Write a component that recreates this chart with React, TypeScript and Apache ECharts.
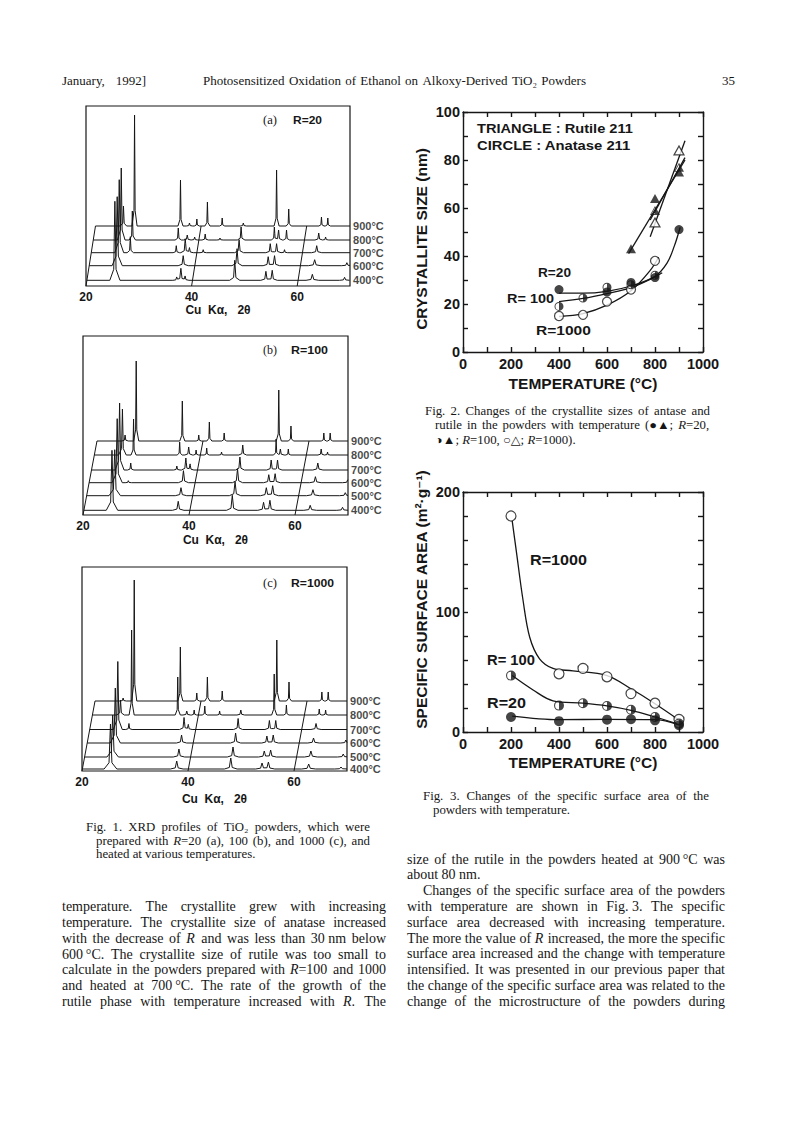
import React, { useEffect, useRef } from 'react';
import * as echarts from 'echarts';

const INK = '#161616';
const SANS = "'Liberation Sans', 'DejaVu Sans', Arial, sans-serif";
const SERIF = "'Liberation Serif', 'DejaVu Serif', 'DejaVu Sans', 'Times New Roman', serif";
const SYMFONT = "'Liberation Serif', 'DejaVu Sans', serif";

// ---------------- Fig. 1 : XRD profiles, peaks = [2θ, height, half-width] ----------------
const xrdTicks = [20, 40, 60];
const tempsA = ['400°C', '600°C', '700°C', '800°C', '900°C'];
const tempsBC = ['400°C', '500°C', '600°C', '700°C', '800°C', '900°C'];

const peaksA400 = [[25.3, 79, 0.4], [37.0, 3, 0.3], [37.8, 12, 0.4], [38.6, 4, 0.3], [48.0, 20, 0.4], [53.9, 9, 0.4], [55.1, 10, 0.4], [62.7, 6, 0.5], [68.8, 3, 0.4]];
const peaksA600 = [[25.3, 69, 0.4], [37.8, 10, 0.4], [48.0, 17, 0.4], [53.9, 9, 0.4], [55.1, 10, 0.4], [62.7, 6, 0.5], [68.8, 3, 0.4]];
const peaksA700 = [[25.3, 73, 0.35], [27.4, 16, 0.25], [36.1, 7, 0.25], [37.8, 14, 0.35], [38.6, 5, 0.3], [41.2, 3, 0.25], [48.0, 13, 0.35], [53.9, 9, 0.35], [55.1, 9, 0.35], [56.6, 3, 0.25], [62.7, 7, 0.4]];
const peaksA800 = [[25.3, 72, 0.3], [27.4, 29, 0.25], [36.1, 12, 0.25], [37.8, 5, 0.3], [39.2, 3, 0.25], [41.2, 6, 0.25], [44.0, 2, 0.25], [48.0, 13, 0.3], [54.3, 13, 0.25], [55.1, 10, 0.3], [56.6, 10, 0.25], [62.7, 7, 0.3], [64.0, 3, 0.25]];
const peaksA900 = [[25.3, 20, 0.25], [27.4, 111, 0.2], [36.1, 46, 0.2], [37.8, 3, 0.25], [39.2, 7, 0.2], [41.2, 24, 0.2], [44.0, 8, 0.2], [48.0, 3, 0.25], [54.3, 56, 0.2], [56.6, 17, 0.2], [62.8, 9, 0.2], [64.0, 8, 0.2]];

const peaksB400 = [[25.3, 60, 0.45], [37.8, 9, 0.45], [48.0, 15, 0.45], [53.9, 8, 0.45], [55.1, 10, 0.45], [62.7, 5, 0.5], [68.8, 3, 0.45]];
const peaksB500 = [[25.3, 46, 0.45], [37.8, 8, 0.45], [48.0, 14, 0.45], [53.9, 8, 0.45], [55.1, 10, 0.45], [62.7, 6, 0.5], [68.8, 3, 0.45]];
const peaksB600 = [[25.3, 64, 0.4], [27.4, 2, 0.25], [37.8, 12, 0.4], [48.0, 14, 0.4], [53.9, 8, 0.4], [55.1, 9, 0.4], [62.7, 6, 0.45], [68.8, 3, 0.4]];
const peaksB700 = [[25.3, 67, 0.35], [27.4, 7, 0.25], [36.1, 4, 0.25], [37.8, 12, 0.35], [38.6, 6, 0.3], [48.0, 13, 0.35], [53.9, 10, 0.35], [55.1, 10, 0.35], [62.7, 7, 0.4]];
const peaksB800 = [[25.3, 46, 0.3], [27.4, 36, 0.2], [36.1, 13, 0.2], [37.8, 8, 0.3], [39.2, 5, 0.2], [41.2, 7, 0.2], [44.0, 3, 0.2], [48.0, 10, 0.3], [54.3, 16, 0.2], [55.1, 6, 0.3], [56.6, 6, 0.2], [62.8, 6, 0.25], [64.0, 3, 0.2]];
const peaksB900 = [[25.3, 6, 0.25], [27.4, 80, 0.2], [36.1, 40, 0.2], [39.2, 6, 0.2], [41.2, 19, 0.2], [44.0, 8, 0.2], [54.3, 51, 0.2], [56.6, 15, 0.2], [62.8, 8, 0.2], [64.0, 8, 0.2]];

const peaksC400 = [[25.3, 45, 0.5], [37.8, 8, 0.5], [48.0, 11, 0.5], [53.9, 6, 0.5], [55.1, 7, 0.5], [62.7, 5, 0.55], [68.8, 2, 0.5]];
const peaksC500 = [[25.3, 42, 0.45], [37.8, 8, 0.45], [48.0, 10, 0.45], [53.9, 6, 0.45], [55.1, 7, 0.45], [62.7, 6, 0.5], [68.8, 3, 0.45]];
const peaksC600 = [[25.3, 55, 0.4], [37.8, 8, 0.4], [48.0, 10, 0.4], [53.9, 7, 0.4], [55.1, 8, 0.4], [62.7, 5, 0.45], [68.8, 3, 0.4]];
const peaksC700 = [[25.3, 68, 0.35], [27.4, 6, 0.25], [37.8, 12, 0.35], [38.6, 5, 0.3], [48.0, 11, 0.35], [53.9, 9, 0.35], [55.1, 9, 0.35], [62.7, 6, 0.4]];
const peaksC800 = [[25.3, 15, 0.3], [27.4, 85, 0.2], [36.1, 38, 0.2], [37.8, 4, 0.3], [39.2, 5, 0.2], [41.2, 9, 0.2], [44.0, 4, 0.2], [48.0, 5, 0.3], [54.3, 41, 0.2], [56.6, 10, 0.2], [62.8, 6, 0.2], [64.0, 5, 0.2]];
const peaksC900 = [[25.3, 3, 0.25], [27.4, 121, 0.2], [36.1, 54, 0.2], [39.2, 8, 0.2], [41.2, 24, 0.2], [44.0, 10, 0.2], [54.3, 61, 0.2], [56.6, 19, 0.2], [62.8, 9, 0.2], [64.0, 9, 0.2]];

// ---------------- Fig. 2 : crystallite size (nm) vs temperature ----------------
const anatase20 = [[400, 26], [600, 25], [700, 29], [800, 31], [900, 51]];
const anatase100 = [[400, 19], [500, 22.5], [600, 27], [700, 28], [800, 32]];
const anatase1000 = [[400, 15], [500, 15.5], [600, 21], [700, 26], [800, 38]];
const rutile20 = [[700, 43], [800, 64], [900, 75]];
const rutile100 = [[800, 59], [900, 77]];
const rutile1000 = [[800, 54], [900, 84]];
const fitA20 = [[400, 24.5], [500, 24.5], [600, 25.3], [700, 27.5], [800, 31.5], [850, 37], [880, 44], [905, 52]];
const fitA100 = [[400, 21], [500, 22.3], [600, 24.3], [700, 26.8], [800, 31.3], [830, 33]];
const fitA1000 = [[400, 14.8], [500, 16], [600, 19.5], [700, 25.5], [780, 34], [815, 39.5]];
const fitR20 = [[690, 41], [925, 80]];
const fitR100 = [[780, 55], [925, 81]];
const fitR1000 = [[780, 48], [925, 88]];

// ---------------- Fig. 3 : specific surface area vs temperature ----------------
const sa1000 = [[200, 180], [400, 48.5], [500, 53], [600, 46], [700, 32], [800, 24], [900, 10.5]];
const sa100 = [[200, 47], [400, 22], [500, 24], [600, 21.7], [700, 18.6], [800, 12.5], [900, 7]];
const sa20 = [[200, 12.5], [400, 9], [600, 10.3], [700, 10.6], [800, 9.7], [900, 5.6]];
const fitS1000 = [[205, 176], [222, 151], [250, 110], [278, 79], [319, 61], [375, 53], [458, 51], [600, 47], [700, 36], [800, 23.6], [900, 10]];
const fitS100 = [[205, 47], [292, 35], [375, 26], [500, 24], [600, 21.7], [700, 18], [800, 12.5], [900, 6.4]];
const fitS20 = [[205, 13.3], [400, 10.3], [600, 10.5], [800, 10.3], [900, 6]];

// ---------------- page text ----------------
const headerLines: [string, number, number, number | null][] = [
  ['January, 1992]', 62, 80, 146],
  ['Photosensitized Oxidation of Ethanol on Alkoxy-Derived TiO₂ Powders', 203, 80, 586],
  ['35', 722, 80, null],
];
const fig1Caption: [string, number, number, number | null][] = [
  ['Fig. 1.  XRD profiles of TiO₂ powders, which were', 86, 827, 370],
  ['prepared with {i|R}=20 (a), 100 (b), and 1000 (c), and', 96, 841, 370],
  ['heated at various temperatures.', 96, 854, null],
];
const fig2Caption: [string, number, number, number | null][] = [
  ['Fig. 2.  Changes of the crystallite sizes of antase and', 425, 411, 710],
  ['rutile in the powders with temperature (●▲; {i|R}=20,', 435, 425.5, 710],
  ['◑▲; {i|R}=100, ○△; {i|R}=1000).', 435, 440, null],
];
const fig3Caption: [string, number, number, number | null][] = [
  ['Fig. 3.  Changes of the specific surface area of the', 423, 796, 709],
  ['powders with temperature.', 433, 810, null],
];
const leftBody = [
  'temperature.  The crystallite grew with increasing',
  'temperature.  The crystallite size of anatase increased',
  'with the decrease of {i|R} and was less than 30\u00a0nm below',
  '600\u2009°C.  The crystallite size of rutile was too small to',
  'calculate in the powders prepared with {i|R}=100 and 1000',
  'and heated at 700\u2009°C.  The rate of the growth of the',
  'rutile phase with temperature increased with {i|R}.  The',
];
const rightBody: [string, number, boolean][] = [
  ['size of the rutile in the powders heated at 900\u2009°C was', 407, true],
  ['about 80 nm.', 407, false],
  ['Changes of the specific surface area of the powders', 423, true],
  ['with temperature are shown in Fig.\u00a03.  The specific', 407, true],
  ['surface area decreased with increasing temperature.', 407, true],
  ['The more the value of {i|R} increased, the more the specific', 407, true],
  ['surface area increased and the change with temperature', 407, true],
  ['intensified.  It was presented in our previous paper that', 407, true],
  ['the change of the specific surface area was related to the', 407, true],
  ['change of the microstructure of the powders during', 407, true],
];

// ---------------- helpers ----------------
const strip = (s: string) => s.replace(/\{i\|([^}]*)\}/g, '$1');
let _ctx: any = null;
function measure(s: string, size: number, family: string, weight = 'normal') {
  if (!_ctx) _ctx = document.createElement('canvas').getContext('2d');
  _ctx.font = `${weight} ${size}px ${family}`;
  return _ctx.measureText(strip(s)).width;
}
type F = { size: number; family: string; weight?: string; sx?: number };
function txt(s: string, x: number, y: number, f: F, sx: number) {
  return {
    type: 'text', x, y, scaleX: sx, silent: true, z: 10,
    style: {
      text: s, fill: INK, fontSize: f.size, fontFamily: f.family, fontWeight: f.weight || 'normal',
      align: 'left', verticalAlign: 'middle',
      rich: { i: { fontStyle: 'italic', fontSize: f.size, fontFamily: f.family, fill: INK } },
    },
  };
}
function justify(s: string, x: number, y: number, r: number | null, f: F) {
  const sx = f.sx || 1;
  if (r == null) return [txt(s, x, y, f, sx)];
  const words = s.split(' ').filter((w) => w.length);
  let k = sx;
  let ws = words.map((w) => measure(w, f.size, f.family, f.weight) * k);
  let total = ws.reduce((a, b) => a + b, 0);
  const n = Math.max(1, words.length - 1);
  let gap = (r - x - total) / n;
  const minGap = f.size * 0.2;
  if (gap < minGap) {
    const f2 = (r - x - minGap * n) / total;
    k = k * f2;
    ws = ws.map((w) => w * f2);
    total = ws.reduce((a, b) => a + b, 0);
    gap = minGap;
  }
  const out: any[] = [];
  let cx = x;
  words.forEach((w, i) => {
    out.push(txt(w, cx, y, f, k));
    cx += ws[i] + gap;
  });
  return out;
}
function fit(s: string, x: number, y: number, r: number, f: F) {
  const w = measure(s, f.size, f.family, f.weight);
  return txt(s, x, y, f, (r - x) / w);
}

function buildTrace(peaks: number[][], level: number, shift: number) {
  const start = 20 + shift;
  const tris: number[][] = [];
  peaks.forEach(([c, h, w]) => {
    tris.push([c + shift, h * 0.82, w * 0.55]);
    tris.push([c + shift, h * 0.18, w * 2.4]);
  });
  const xs = new Set<number>([start, 70]);
  tris.forEach(([c, , w]) => { xs.add(c - w); xs.add(c); xs.add(c + w); });
  const sorted = Array.from(xs).filter((x) => x >= start && x <= 70).sort((a, b) => a - b);
  return sorted.map((x) => {
    let y = level;
    tris.forEach(([c, h, w]) => { const d = Math.abs(x - c); if (d < w) y += h * (1 - d / w); });
    return [x, y];
  });
}

const HALF_CIRCLE = 'path://M10,0A10,10,0,1,1,10,20A10,10,0,1,1,10,0ZM10,2.2A7.8,7.8,0,1,0,10,17.8A7.8,7.8,0,1,0,10,2.2ZM10,2.2A7.8,7.8,0,0,1,10,17.8Z';
const HALF_TRI = 'path://M10,0L20,18L0,18ZM10,3.6L2.9,16.4L17.1,16.4ZM10,3.6L17.1,16.4L10,16.4Z';

function buildOption() {
  const panels = [
    { grid: { left: 86, top: 106, width: 264, height: 180 }, levels: [5.7, 20.3, 33.3, 46, 60], slant: 0.158, temps: tempsA,
      peaks: [peaksA400, peaksA600, peaksA700, peaksA800, peaksA900], nameGap: 18, tY: 120, tag: '(a)', R: 'R=20', rEnd: 322, rX: 293 },
    { grid: { left: 83, top: 336, width: 265, height: 179 }, levels: [4.7, 19.3, 32.3, 45, 60, 74], slant: 0.189, temps: tempsBC,
      peaks: [peaksB400, peaksB500, peaksB600, peaksB700, peaksB800, peaksB900], nameGap: 19, tY: 350, tag: '(b)', R: 'R=100', rEnd: 328, rX: 291 },
    { grid: { left: 82, top: 567, width: 265, height: 204 }, levels: [2, 14, 28, 41.5, 56, 70], slant: 0.186, temps: tempsBC,
      peaks: [peaksC400, peaksC500, peaksC600, peaksC700, peaksC800, peaksC900], nameGap: 22, tY: 583, tag: '(c)', R: 'R=1000', rEnd: 334, rX: 291 },
  ];
  const grids: any[] = [];
  const xAxes: any[] = [];
  const yAxes: any[] = [];
  const series: any[] = [];
  const els: any[] = [];

  panels.forEach((p, i) => {
    grids.push({ ...p.grid, show: true, borderColor: INK, borderWidth: 1.2, backgroundColor: 'transparent', containLabel: false, outerBoundsMode: 'none' });
    xAxes.push({
      gridIndex: i, type: 'value', min: 20, max: 70, interval: 20,
      axisLine: { show: false }, axisTick: { show: false }, splitLine: { show: false },
      axisLabel: { formatter: (v: number) => (xrdTicks.includes(v) ? String(v) : ''), color: INK, fontFamily: SANS, fontWeight: 'bold', fontSize: 12, margin: 5 },
      name: 'Cu  Kα,   2θ', nameLocation: 'middle', nameGap: p.nameGap,
      nameTextStyle: { color: INK, fontFamily: SANS, fontWeight: 'bold', fontSize: 12 },
    });
    yAxes.push({ gridIndex: i, type: 'value', min: 0, max: p.grid.height, show: false });
    const ppu = p.grid.width / 50;
    const shift = (L: number) => (L * p.slant) / ppu;
    p.temps.forEach((t, k) => {
      const L = p.levels[k];
      series.push({
        type: 'line', xAxisIndex: i, yAxisIndex: i, data: buildTrace(p.peaks[k], L, shift(L)),
        symbol: 'none', silent: true, lineStyle: { color: INK, width: 1 }, z: 2,
      });
    });
    // temperature labels at the right end of each baseline
    series.push({
      type: 'scatter', xAxisIndex: i, yAxisIndex: i, silent: true, z: 3,
      data: p.temps.map((t, k) => ({ value: [70, p.levels[k]], name: t })),
      symbolSize: 0.1, itemStyle: { color: 'rgba(0,0,0,0)' },
      label: { show: true, position: 'right', distance: 3, formatter: '{b}', color: INK, fontFamily: SANS, fontWeight: 'bold', fontSize: 11 },
    });
    const top = p.levels[p.levels.length - 1];
    xrdTicks.forEach((x0) => {
      series.push({ type: 'line', xAxisIndex: i, yAxisIndex: i, data: [[x0, 0], [x0 + shift(top), top]], symbol: 'none', silent: true, lineStyle: { color: INK, width: 1 } });
    });
    els.push(fit(p.tag, 263, p.tY, 277, { size: 13, family: SERIF }));
    els.push(fit(p.R, p.rX, p.tY, p.rEnd, { size: 11, family: SANS, weight: 'bold' }));
  });

  const line = { color: INK, width: 1.4 };
  const nameStyle = (pad: number[]) => ({ color: INK, fontFamily: SANS, fontWeight: 'bold', fontSize: 15.5, padding: pad });
  const xFrame = (g: number, pos: string, labels: boolean, gap = 0) => ({
    gridIndex: g, type: 'value', position: pos, min: 0, max: 1000, interval: 100,
    axisLine: { show: true, onZero: false, lineStyle: line },
    axisTick: { show: true, inside: true, length: 5, lineStyle: line },
    splitLine: { show: false },
    axisLabel: labels
      ? { show: true, formatter: (v: number) => (v % 200 === 0 ? String(v) : ''), color: INK, fontFamily: SANS, fontWeight: 'bold', fontSize: 14.5, margin: 4 }
      : { show: false },
    name: labels ? 'TEMPERATURE (°C)' : '', nameLocation: 'middle', nameGap: gap, nameTextStyle: nameStyle([0, 0, 0, 0]),
  });
  const yFrame = (g: number, pos: string, max: number, step: number, every: number, name: string, pad: number[]) => ({
    gridIndex: g, type: 'value', position: pos, min: 0, max, interval: step,
    axisLine: { show: true, onZero: false, lineStyle: line },
    axisTick: { show: true, inside: true, length: 5, lineStyle: line },
    splitLine: { show: false },
    axisLabel: name
      ? { show: true, formatter: (v: number) => (v % every === 0 ? String(v) : ''), color: INK, fontFamily: SANS, fontWeight: 'bold', fontSize: 14.5, margin: 3 }
      : { show: false },
    name, nameLocation: 'middle', nameGap: 34, nameTextStyle: nameStyle(pad),
  });

  // Fig. 2 (grid 3, axes 3/4)
  grids.push({ left: 463, top: 112, width: 240, height: 240, containLabel: false, outerBoundsMode: 'none' });
  xAxes.push(xFrame(3, 'bottom', true, 23.5), xFrame(3, 'top', false));
  yAxes.push(yFrame(3, 'left', 100, 10, 20, 'CRYSTALLITE SIZE (nm)', [0, 14, 0, 0]), yFrame(3, 'right', 100, 10, 20, '', [0, 0, 0, 0]));
  // Fig. 3 (grid 4, axes 5/6)
  grids.push({ left: 463, top: 492, width: 240, height: 240, containLabel: false, outerBoundsMode: 'none' });
  xAxes.push(xFrame(4, 'bottom', true, 22.5), xFrame(4, 'top', false));
  yAxes.push(yFrame(4, 'left', 200, 20, 100, 'SPECIFIC SURFACE AREA (m²·g⁻¹)', [0, 0, 0, 25]), yFrame(4, 'right', 200, 20, 100, '', [0, 0, 0, 0]));

  const curve = (ax: number, data: number[][]) => ({
    type: 'line', xAxisIndex: ax, yAxisIndex: ax, data, smooth: 0.35, symbol: 'none', silent: true, z: 2,
    lineStyle: { color: INK, width: 1.3 },
  });
  const dots = (ax: number, data: number[][], symbol: string, size: any, open: boolean) => ({
    type: 'scatter', xAxisIndex: ax, yAxisIndex: ax, data, symbol, symbolSize: size, silent: true, z: 4,
    itemStyle: open ? { color: '#ffffff', borderColor: INK, borderWidth: 1.2 } : { color: INK, borderWidth: 0 },
  });
  series.push(
    curve(3, fitA20), curve(3, fitA100), curve(3, fitA1000), curve(3, fitR20), curve(3, fitR100), curve(3, fitR1000),
    dots(3, anatase1000, 'circle', 9, true), dots(3, anatase100, HALF_CIRCLE, 9, false), dots(3, anatase20, 'circle', 9, false),
    dots(3, rutile1000, 'triangle', [10, 9], true), dots(3, rutile100, HALF_TRI, [10, 9], false), dots(3, rutile20, 'triangle', [10, 9], false),
    curve(5, fitS1000), curve(5, fitS100), curve(5, fitS20),
    dots(5, sa1000, 'circle', 10, true), dots(5, sa100, HALF_CIRCLE, 10, false), dots(5, sa20, 'circle', 10, false),
  );

  const bold13 = { size: 13, family: SANS, weight: 'bold' };
  const bold15 = { size: 14.5, family: SANS, weight: 'bold' };
  els.push(
    fit('TRIANGLE : Rutile 211', 477, 128, 633, bold13),
    fit('CIRCLE : Anatase 211', 477, 145, 631, bold13),
    fit('R=20', 538, 273, 571, bold13),
    fit('R= 100', 507, 299, 554, bold13),
    fit('R=1000', 536, 330, 591, bold13),
    fit('R=1000', 530, 560, 587, bold15),
    fit('R= 100', 487, 660, 535, bold15),
    fit('R=20', 487, 703, 526, bold15),
  );

  const head: F = { size: 13, family: SERIF };
  headerLines.forEach(([s, x, y, r]) => els.push(...justify(s, x, y, r, head)));
  const cap: F = { size: 12, family: SERIF, sx: 1.07 };
  [...fig1Caption, ...fig3Caption].forEach(([s, x, y, r]) => els.push(...justify(s, x, y, r, cap)));
  const capSym: F = { size: 12, family: SYMFONT, sx: 1.07 };
  fig2Caption.forEach(([s, x, y, r]) => els.push(...justify(s, x, y, r, capSym)));
  const body: F = { size: 14, family: SERIF };
  leftBody.forEach((s, i) => els.push(...justify(s, 62, 906.7 + 15.8 * i, 386, body)));
  rightBody.forEach(([s, x, j], i) => els.push(...justify(s, x, 859 + 15.8 * i, j ? 725 : null, body)));

  return {
    animation: false,
    backgroundColor: '#ffffff',
    grid: grids,
    xAxis: xAxes,
    yAxis: yAxes,
    series,
    graphic: { elements: els },
  };
}

export default function App() {
  const ref = useRef<HTMLDivElement>(null);
  useEffect(() => {
    document.body.style.margin = '0';
    if (!ref.current) return;
    const chart = echarts.init(ref.current, null, { renderer: 'svg', width: 793, height: 1121 });
    chart.setOption(buildOption() as any);
    return () => chart.dispose();
  }, []);
  return <div ref={ref} style={{ width: 793, height: 1121, background: '#fff' }} />;
}
